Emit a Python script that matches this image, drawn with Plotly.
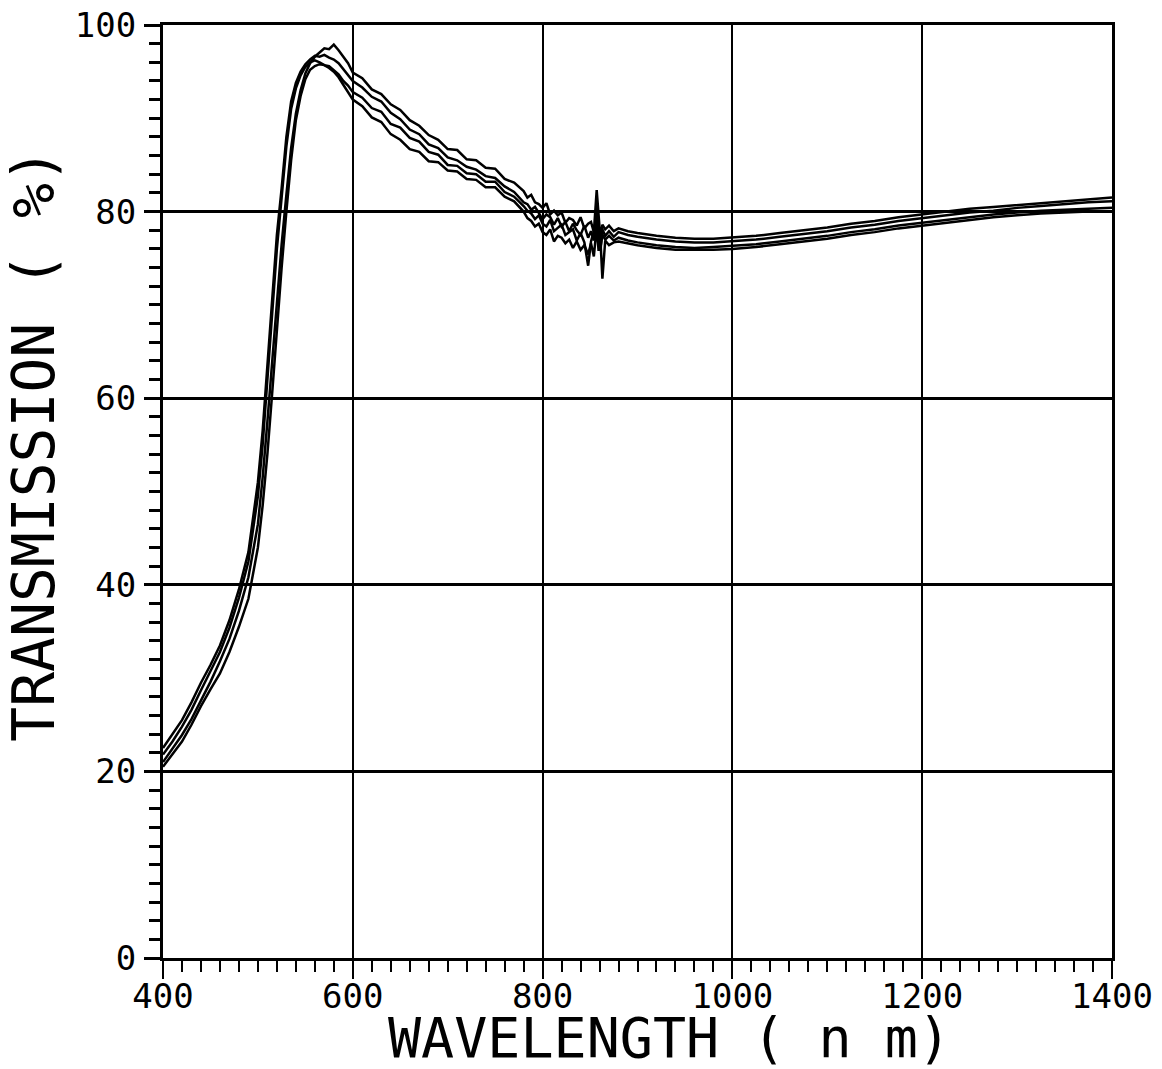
import plotly.graph_objects as go

# Wavelength grid (nm)
wavelength = [400, 410, 420, 430, 440, 450, 460, 470, 480, 490,
              500, 505, 510, 515, 520, 525, 530, 535, 540, 545,
              550, 555, 560, 565, 570, 575, 580, 585, 590, 595,
              600, 610, 620, 630, 640, 650, 660, 670, 680, 690,
              700, 710, 720, 730, 740, 750, 760, 770,
              780, 784, 788, 792, 796, 800, 804, 808, 812, 816,
              820, 824, 828, 832, 836, 840, 844, 848, 851, 854,
              857, 859, 861, 863, 866, 870, 875, 880,
              890, 900, 920, 940, 960, 980, 1000, 1025, 1050, 1075,
              1100, 1125, 1150, 1175, 1200, 1225, 1250, 1275, 1300, 1325,
              1350, 1375, 1400]

# Transmission (%) of the four traces
trace_a = [21.0, 22.4, 23.9, 25.6, 27.6, 29.6, 31.8, 34.2, 37.2, 40.8,
           46.5, 51.5, 57.5, 64.0, 70.5, 76.5, 81.8, 86.8, 90.5, 93.0,
           94.8, 95.9, 96.6, 97.0, 97.5, 97.4, 97.9, 97.3, 96.6, 95.9,
           94.9, 94.3, 93.1, 92.6, 91.5, 90.9, 89.8, 89.2, 88.2, 87.7,
           86.7, 86.6, 85.6, 85.5, 84.7, 84.6, 83.5, 83.1,
           82.2, 81.5, 81.8, 81.0, 80.8, 80.4, 80.9, 79.7, 80.1, 79.6,
           79.9, 78.8, 79.3, 79.1, 78.5, 79.4, 78.2, 78.7, 78.9, 77.8,
           82.3, 79.2, 77.0, 78.6, 78.1, 78.5, 77.9, 78.2,
           77.9, 77.7, 77.4, 77.2, 77.1, 77.1, 77.2, 77.4, 77.7, 78.0,
           78.3, 78.7, 79.0, 79.4, 79.7, 80.0, 80.3, 80.5, 80.7, 80.9,
           81.1, 81.3, 81.5]

trace_b = [22.5, 24.0, 25.5, 27.4, 29.5, 31.4, 33.5, 36.2, 39.5, 43.5,
           51.0, 56.5, 63.5, 70.5, 77.5, 82.5, 88.0, 91.8, 93.8, 95.0,
           95.8, 96.3, 96.7, 96.6, 96.8, 96.5, 96.3, 95.9, 95.3, 94.7,
           94.0, 93.3, 92.3, 91.8, 90.6, 89.9, 88.8, 88.3, 87.2, 86.8,
           85.8, 85.5, 84.8, 84.5, 83.8, 83.6, 82.7, 82.1,
           81.0, 80.8, 80.2, 80.5, 79.8, 79.2, 79.7, 79.4, 78.6, 79.3,
           78.4, 78.9, 77.9, 78.7, 78.0, 77.5, 78.5, 77.2, 77.9, 76.9,
           80.6, 78.0, 75.8, 78.1, 77.4, 77.9, 77.3, 77.8,
           77.5, 77.3, 77.0, 76.8, 76.7, 76.7, 76.8, 77.0, 77.3, 77.6,
           77.9, 78.3, 78.6, 79.0, 79.3, 79.6, 79.9, 80.1, 80.4, 80.6,
           80.8, 81.0, 81.1]

trace_c = [21.8, 23.2, 24.8, 26.6, 28.7, 30.7, 32.8, 35.4, 38.6, 42.5,
           49.5, 55.0, 62.0, 69.0, 76.0, 81.5, 87.0, 91.0, 93.2, 94.6,
           95.5, 96.0, 96.2, 96.0, 95.7, 95.6, 95.1, 94.7, 94.0, 93.5,
           92.8, 92.2, 91.1, 90.7, 89.4, 89.0, 87.9, 87.5, 86.4, 86.1,
           85.0, 84.9, 84.1, 84.0, 83.2, 83.2, 82.1, 81.6,
           80.6, 80.1, 79.8, 79.2, 79.6, 78.7, 78.4, 79.1, 77.9, 78.2,
           78.6, 77.5, 77.8, 78.1, 76.9, 77.7, 76.7, 74.2, 76.8, 77.9,
           79.0, 77.0, 76.2, 77.5, 77.0, 77.4, 76.9, 77.2,
           76.9, 76.7, 76.4, 76.2, 76.1, 76.2, 76.3, 76.5, 76.8, 77.1,
           77.4, 77.8, 78.1, 78.5, 78.8, 79.1, 79.4, 79.7, 79.9, 80.1,
           80.2, 80.3, 80.4]

trace_d = [20.5, 21.8, 23.2, 25.0, 27.0, 28.8, 30.5, 32.8, 35.5, 38.5,
           44.0, 48.5, 54.0, 60.5, 67.5, 74.0, 80.0, 85.5, 89.8, 92.4,
           94.2, 95.2, 95.6, 95.8, 95.7, 95.4, 95.0, 94.4, 93.6, 92.8,
           92.0, 91.3, 90.1, 89.6, 88.3, 87.7, 86.7, 86.4, 85.4, 85.3,
           84.4, 84.3, 83.5, 83.4, 82.6, 82.6, 81.6, 81.1,
           80.0, 79.3, 79.0, 78.4, 78.7, 77.8, 77.5, 78.1, 76.8, 77.4,
           77.2, 76.6, 77.0, 76.1, 76.8, 75.9, 76.4, 75.4, 76.6, 75.2,
           78.4, 75.8, 76.9, 72.8, 76.9, 76.4, 76.7, 76.8,
           76.6, 76.4, 76.1, 75.9, 75.9, 75.9, 76.0, 76.2, 76.5, 76.8,
           77.1, 77.5, 77.8, 78.2, 78.5, 78.8, 79.1, 79.4, 79.6, 79.8,
           79.9, 80.0, 80.0]

x_ticks = [400, 600, 800, 1000, 1200, 1400]
x_tick_text = ["400", "600", "800", "1000", "1200", "1400"]
y_ticks = [0, 20, 40, 60, 80, 100]
y_tick_text = ["0", "20", "40", "60", "80", "100"]

x_title = "WAVELENGTH ( n m)"
y_title = "TRANSMISSION ( %)"

FONT = "DejaVu Sans Mono"

fig = go.Figure()
for tr in [trace_a, trace_b, trace_c, trace_d]:
    n = min(len(tr), len(wavelength))
    fig.add_trace(go.Scatter(x=wavelength[:n], y=tr[:n], mode="lines",
                             line=dict(color="black", width=2.5),
                             showlegend=False, hoverinfo="skip"))

fig.update_layout(
    width=1162, height=1069,
    margin=dict(l=163, r=50, t=25, b=111, autoexpand=False),
    paper_bgcolor="white", plot_bgcolor="white",
    showlegend=False,
)

fig.update_xaxes(
    range=[400, 1400], tickvals=x_ticks, ticktext=x_tick_text,
    ticks="outside", ticklen=18, tickwidth=2, tickcolor="black",
    showline=True, linecolor="black", linewidth=3, mirror=True,
    showgrid=True, gridcolor="black", gridwidth=2,
    zeroline=False, automargin=False,
    tickfont=dict(family=FONT, size=34, color="black"),
    ticklabelstandoff=-12,
    minor=dict(dtick=20, ticks="outside", ticklen=11, tickwidth=2,
               tickcolor="black", showgrid=False),
)
fig.update_yaxes(
    range=[0, 100], tickvals=y_ticks, ticktext=y_tick_text,
    ticks="outside", ticklen=16, tickwidth=3, tickcolor="black",
    showline=True, linecolor="black", linewidth=3, mirror=True,
    showgrid=True, gridcolor="black", gridwidth=3,
    zeroline=False, automargin=False,
    tickfont=dict(family=FONT, size=34, color="black"),
    ticklabelstandoff=1,
    minor=dict(dtick=2, ticks="outside", ticklen=11, tickwidth=3,
               tickcolor="black", showgrid=False),
)

fig.add_annotation(text=x_title, xref="paper", yref="paper",
                   x=0.534, y=-0.086, xanchor="center", yanchor="middle",
                   showarrow=False,
                   font=dict(family=FONT, size=55, color="black"))
fig.add_annotation(text=y_title, xref="paper", yref="paper",
                   x=-0.136, y=0.55, xanchor="center", yanchor="middle",
                   textangle=-90, showarrow=False,
                   font=dict(family=FONT, size=58, color="black"))

fig.write_html("out.html")
